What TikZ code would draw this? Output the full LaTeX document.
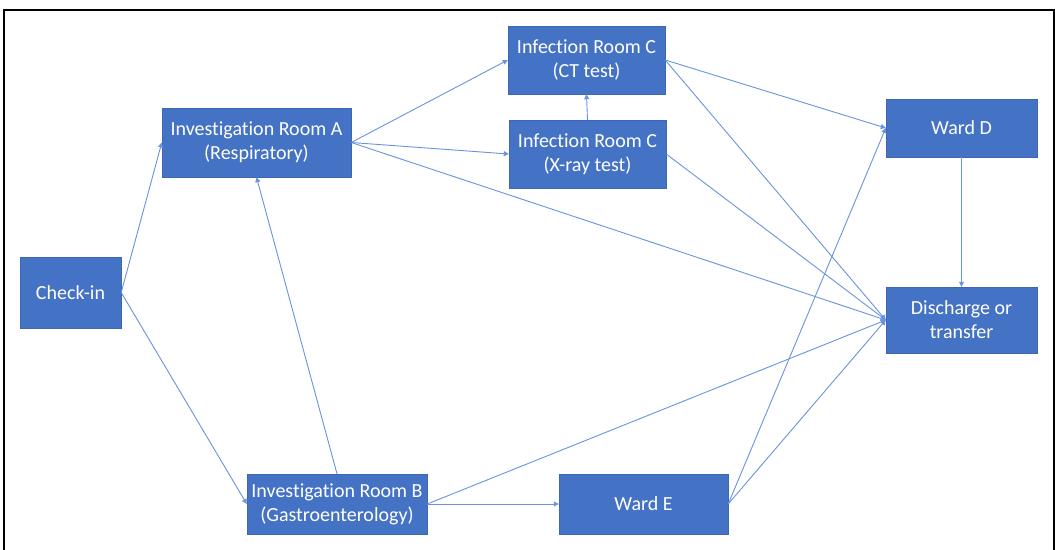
\documentclass[tikz,border=0pt]{standalone}
\usepackage{fontspec}
\setmainfont{Carlito}[Ligatures=NoCommon]
\usetikzlibrary{arrows.meta}
\definecolor{boxblue}{HTML}{4472C4}
\definecolor{edgeblue}{RGB}{105,147,222}
\begin{document}
\begin{tikzpicture}[x=1pt,y=-1pt,
  box/.style={rectangle, fill=boxblue, draw=boxblue!90!black, line width=0.4pt, inner sep=0pt,
    text=white, align=center, font=\fontsize{20}{24}\selectfont},
  conn/.style={draw=edgeblue, line width=0.9pt, -{Triangle[width=5pt,length=5pt]}}]
\useasboundingbox (0,0) rectangle (1055,549);
\begin{scope}
\clip (0,0) rectangle (1055,549);
\draw[line width=2.2pt] (4.2,10) rectangle (1053.8,560);
\end{scope}
\node[box, minimum width=101pt, minimum height=71pt] (check) at (70.5,292.5) {Check-in};
\node[box, minimum width=189pt, minimum height=69pt] (invA) at (256.5,142.5) {Investigation Room A\\(Respiratory)};
\node[box, minimum width=157pt, minimum height=68pt] (ct) at (586.5,60) {Infection Room C\\(CT test)};
\node[box, minimum width=157pt, minimum height=68pt] (xray) at (587.5,154) {Infection Room C\\(X-ray test)};
\node[box, minimum width=151pt, minimum height=58pt] (wardD) at (961.5,128) {Ward D};
\node[box, minimum width=151pt, minimum height=66pt] (dis) at (961.5,320) {Discharge or\\transfer};
\node[box, minimum width=180pt, minimum height=60pt] (invB) at (337,504) {Investigation Room B\\(Gastroenterology)};
\node[box, minimum width=169pt, minimum height=60pt] (wardE) at (643.5,504) {Ward E};
\draw[conn] (check.east) -- (invA.west);
\draw[conn] (check.east) -- (invB.west);
\draw[conn] (invB.north) -- (invA.south);
\draw[conn] (invA.east) -- (ct.west);
\draw[conn] (invA.east) -- (xray.west);
\draw[conn] (invA.east) -- (dis.west);
\draw[conn] (xray.north) -- (ct.south);
\draw[conn] (ct.east) -- (wardD.west);
\draw[conn] (ct.east) -- (dis.west);
\draw[conn] (xray.east) -- (dis.west);
\draw[conn] (wardD.south) -- (dis.north);
\draw[conn] (invB.east) -- (dis.west);
\draw[conn] (invB.east) -- (wardE.west);
\draw[conn] (wardE.east) -- (wardD.west);
\draw[conn] (wardE.east) -- (dis.west);
\end{tikzpicture}
\end{document}
